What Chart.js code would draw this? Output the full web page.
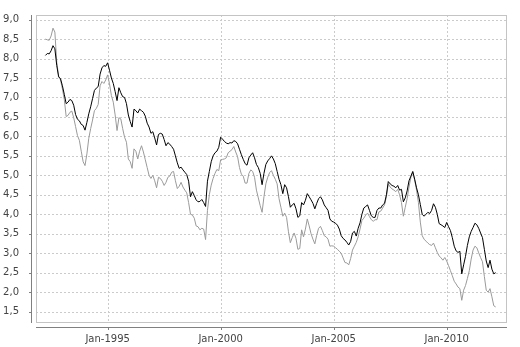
<!DOCTYPE html>
<html>
<head>
<meta charset="utf-8">
<script src="https://cdn.jsdelivr.net/npm/chart.js@4.4.1/dist/chart.umd.min.js"></script>
<style>
  html, body { margin: 0; padding: 0; background: #ffffff; }
  #c { display: block; }
</style>
</head>
<body>
<canvas id="c" width="520" height="347"></canvas>
<script>
// Monthly observations, April 1992 to March 2012
const startYear = 1992;
const startMonth = 4;

const seriesBlack = [
  8.08, 8.13, 8.12, 8.20, 8.33, 8.25, 7.82, 7.53, 7.48, 7.30, 7.08, 6.84,
  6.88, 6.95, 6.92, 6.80, 6.56, 6.44, 6.40, 6.31, 6.28, 6.16, 6.36, 6.58,
  6.76, 6.97, 7.18, 7.24, 7.28, 7.60, 7.76, 7.82, 7.80, 7.89, 7.70, 7.50,
  7.36, 7.15, 6.92, 7.25, 7.12, 7.02, 7.00, 6.84, 6.55, 6.38, 6.24, 6.70,
  6.66, 6.60, 6.70, 6.66, 6.62, 6.52, 6.34, 6.24, 6.08, 6.12, 5.96, 5.78,
  6.05, 6.08, 6.06, 5.92, 5.76, 5.84, 5.80, 5.74, 5.67, 5.50, 5.32, 5.18,
  5.21, 5.14, 5.08, 5.02, 4.85, 4.45, 4.58, 4.48, 4.37, 4.32, 4.33, 4.38,
  4.30, 4.20, 4.85, 5.10, 5.35, 5.50, 5.58, 5.62, 5.72, 5.98, 5.93, 5.87,
  5.83, 5.81, 5.84, 5.83, 5.89, 5.87, 5.81, 5.67, 5.53, 5.41, 5.30, 5.26,
  5.45, 5.52, 5.58, 5.45, 5.28, 5.20, 5.05, 4.76, 5.05, 5.28, 5.37, 5.43,
  5.50, 5.42, 5.30, 5.10, 4.90, 4.76, 4.53, 4.76, 4.68, 4.45, 4.18, 4.24,
  4.28, 4.14, 3.92, 3.96, 4.30, 4.24, 4.36, 4.53, 4.45, 4.37, 4.28, 4.14,
  4.28, 4.40, 4.45, 4.37, 4.24, 4.17, 4.10, 3.88, 3.82, 3.80, 3.77, 3.72,
  3.62, 3.45, 3.38, 3.34, 3.28, 3.21, 3.30, 3.52, 3.56, 3.44, 3.64, 3.78,
  4.00, 4.16, 4.20, 4.24, 4.10, 3.96, 3.92, 3.92, 4.10, 4.16, 4.16, 4.24,
  4.28, 4.50, 4.84, 4.78, 4.74, 4.72, 4.68, 4.74, 4.62, 4.64, 4.32, 4.42,
  4.60, 4.86, 4.98, 5.10, 4.90, 4.68, 4.50, 4.25, 4.00, 3.95, 4.00, 4.05,
  4.02, 4.10, 4.27, 4.18, 4.00, 3.76, 3.73, 3.70, 3.66, 3.79, 3.68, 3.58,
  3.40, 3.18, 3.06, 3.02, 3.05, 2.47, 2.70, 2.92, 3.20, 3.42, 3.56, 3.66,
  3.77, 3.73, 3.64, 3.52, 3.40, 3.10, 2.80, 2.63, 2.82, 2.59, 2.47, 2.50
];

const seriesGrey = [
  8.50, 8.48, 8.47, 8.58, 8.78, 8.68, 7.90, 7.55, 7.45, 7.22, 6.95, 6.51,
  6.54, 6.62, 6.65, 6.48, 6.25, 6.02, 5.90, 5.62, 5.35, 5.25, 5.55, 5.95,
  6.20, 6.42, 6.66, 6.72, 6.82, 7.30, 7.41, 7.36, 7.45, 7.58, 7.35, 7.05,
  6.88, 6.55, 6.15, 6.48, 6.45, 6.20, 5.98, 5.85, 5.42, 5.35, 5.18, 5.68,
  5.62, 5.42, 5.62, 5.76, 5.60, 5.40, 5.20, 5.00, 4.92, 5.00, 4.86, 4.68,
  4.95, 4.92, 4.85, 4.74, 4.82, 4.95, 4.98, 5.08, 5.10, 4.86, 4.66, 4.72,
  4.82, 4.70, 4.62, 4.55, 4.30, 4.00, 3.98, 3.90, 3.70, 3.68, 3.60, 3.64,
  3.62, 3.35, 4.10, 4.50, 4.75, 4.92, 5.05, 5.15, 5.12, 5.40, 5.41, 5.42,
  5.45, 5.58, 5.62, 5.66, 5.74, 5.60, 5.48, 5.20, 5.03, 4.98, 4.80, 4.80,
  5.05, 5.14, 5.10, 4.95, 4.62, 4.42, 4.22, 4.05, 4.45, 4.78, 4.95, 5.07,
  5.12, 5.00, 4.90, 4.78, 4.40, 4.18, 3.95, 4.03, 3.92, 3.55, 3.27, 3.40,
  3.52, 3.38, 3.10, 3.12, 3.60, 3.42, 3.62, 3.88, 3.70, 3.50, 3.36, 3.24,
  3.46, 3.64, 3.69, 3.58, 3.45, 3.42, 3.36, 3.18, 3.19, 3.18, 3.14, 3.10,
  3.05, 3.00, 2.88, 2.76, 2.75, 2.70, 2.86, 3.08, 3.18, 3.28, 3.42, 3.62,
  3.84, 3.90, 3.98, 4.03, 3.94, 3.86, 3.82, 3.86, 3.86, 4.06, 4.08, 4.16,
  4.24, 4.45, 4.78, 4.70, 4.65, 4.62, 4.58, 4.64, 4.50, 4.30, 3.95, 4.18,
  4.40, 4.70, 4.95, 5.08, 4.88, 4.62, 4.30, 3.80, 3.45, 3.36, 3.31, 3.26,
  3.22, 3.20, 3.26, 3.14, 3.02, 2.93, 2.88, 2.82, 2.89, 2.80, 2.68, 2.55,
  2.42, 2.28, 2.21, 2.13, 2.09, 1.79, 2.05, 2.17, 2.35, 2.55, 2.85, 3.08,
  3.18, 3.14, 3.01, 2.89, 2.78, 2.40, 2.05, 2.00, 2.09, 1.88, 1.65, 1.62
];

const yTickValues = [1.5, 2.0, 2.5, 3.0, 3.5, 4.0, 4.5, 5.0, 5.5, 6.0, 6.5, 7.0, 7.5, 8.0, 8.5, 9.0];
const xTickLabels = ['Jan-1995', 'Jan-2000', 'Jan-2005', 'Jan-2010'];

const monthNames = ['Jan', 'Feb', 'Mar', 'Apr', 'May', 'Jun', 'Jul', 'Aug', 'Sep', 'Oct', 'Nov', 'Dec'];

// month serial: year * 12 + zero-based month
function serialOf(label) {
  const [mon, yr] = label.split('-');
  return Number(yr) * 12 + monthNames.indexOf(mon);
}

const categories = seriesBlack.map((_, i) => {
  const s = startYear * 12 + (startMonth - 1) + i;
  return monthNames[s % 12] + '-' + Math.floor(s / 12);
});

const xTickSerials = xTickLabels.map(serialOf);
const toPoints = arr => arr.map((v, i) => ({ x: serialOf(categories[i]), y: v }));

const firstSerial = serialOf(categories[0]);
const lastSerial = serialOf(categories[categories.length - 1]);
const xPad = (lastSerial - firstSerial) * 0.021;

const tickFont = { family: 'DejaVu Sans', size: 10 };
const tickColor = '#444444';

// plot frame, dashed grid, detached axis lines and tick marks
const framePlugin = {
  id: 'framePlugin',
  beforeDatasetsDraw(chart) {
    const { ctx, chartArea: a, scales } = chart;
    ctx.save();
    ctx.strokeStyle = '#cbcbcb';
    ctx.lineWidth = 1;
    ctx.setLineDash([2, 2]);
    ctx.beginPath();
    yTickValues.forEach(v => {
      const py = Math.round(scales.y.getPixelForValue(v)) + 0.5;
      ctx.moveTo(a.left, py);
      ctx.lineTo(a.right, py);
    });
    xTickSerials.forEach(v => {
      const px = Math.round(scales.x.getPixelForValue(v)) + 0.5;
      ctx.moveTo(px, a.top);
      ctx.lineTo(px, a.bottom);
    });
    ctx.stroke();
    ctx.restore();
  },
  afterDatasetsDraw(chart) {
    const { ctx, chartArea: a, scales } = chart;
    ctx.save();
    ctx.lineWidth = 1;
    ctx.setLineDash([]);
    ctx.strokeStyle = '#c4c4c4';
    ctx.strokeRect(a.left + 0.5, a.top + 0.5, a.right - a.left - 1, a.bottom - a.top);

    ctx.strokeStyle = '#808080';
    ctx.beginPath();
    const ax = a.left - 4.5;
    ctx.moveTo(ax, a.top);
    ctx.lineTo(ax, a.bottom + 1);
    yTickValues.forEach(v => {
      const py = Math.round(scales.y.getPixelForValue(v)) + 0.5;
      ctx.moveTo(ax - 2.5, py);
      ctx.lineTo(ax, py);
    });
    const ay = a.bottom + 5.5;
    ctx.moveTo(a.left, ay);
    ctx.lineTo(a.right, ay);
    xTickSerials.forEach(v => {
      const px = Math.round(scales.x.getPixelForValue(v)) + 0.5;
      ctx.moveTo(px, ay);
      ctx.lineTo(px, ay + 2.5);
    });
    ctx.stroke();
    ctx.restore();
  }
};

new Chart(document.getElementById('c'), {
  type: 'line',
  data: {
    datasets: [
      {
        data: toPoints(seriesBlack),
        borderColor: '#000000',
        borderWidth: 1,
        pointRadius: 0,
        tension: 0,
        order: 0
      },
      {
        data: toPoints(seriesGrey),
        borderColor: '#9a9a9a',
        borderWidth: 1,
        pointRadius: 0,
        tension: 0,
        order: 1
      }
    ]
  },
  options: {
    responsive: false,
    animation: false,
    devicePixelRatio: 1,
    layout: { padding: { left: 0, right: 13, top: 9, bottom: 0 } },
    plugins: {
      legend: { display: false },
      tooltip: { enabled: false }
    },
    scales: {
      x: {
        type: 'linear',
        min: firstSerial - xPad,
        max: lastSerial + xPad + 1,
        grid: { display: false },
        border: { display: false },
        afterBuildTicks: s => { s.ticks = xTickSerials.map(v => ({ value: v })); },
        afterFit: s => { s.height = 25; },
        ticks: {
          font: tickFont,
          color: tickColor,
          padding: 3,
          maxRotation: 0,
          autoSkip: false,
          callback: v => xTickLabels[xTickSerials.indexOf(v)]
        }
      },
      y: {
        type: 'linear',
        min: 1.233,
        max: 9.118,
        grid: { display: false },
        border: { display: false },
        afterBuildTicks: s => { s.ticks = yTickValues.map(v => ({ value: v })); },
        afterFit: s => { s.width = 36; },
        ticks: {
          font: tickFont,
          color: tickColor,
          padding: 9,
          autoSkip: false,
          callback: v => v.toFixed(1).replace('.', ',')
        }
      }
    }
  },
  plugins: [framePlugin]
});
</script>
</body>
</html>
